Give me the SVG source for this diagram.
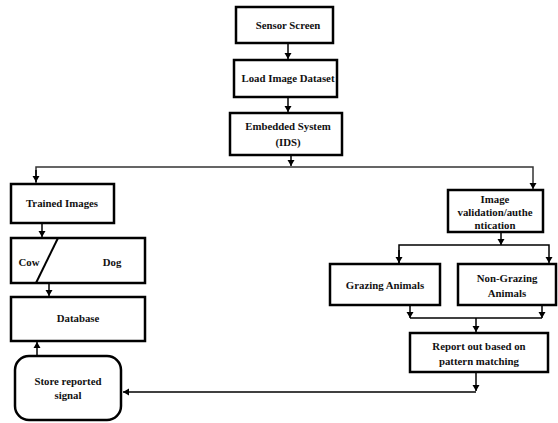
<svg xmlns="http://www.w3.org/2000/svg" width="558" height="423" viewBox="0 0 558 423">
<style>
.box{fill:#fff;stroke:#000;stroke-width:2.5}
.t{font-family:"Liberation Serif","Times New Roman",serif;font-weight:bold;font-size:10.8px;fill:#111;text-anchor:middle}
.c{fill:none;stroke:#000;stroke-width:1.5}
.g{fill:none;stroke:#333;stroke-width:1.5}
</style>
<defs>
<marker id="ah" markerWidth="8" markerHeight="8" refX="6" refY="4" orient="auto" markerUnits="userSpaceOnUse">
<path d="M0,0.5 L6,4 L0,7.5 Z" fill="#000"/>
</marker>
</defs>
<rect width="558" height="423" fill="#fff"/>
<g id="connectors">
<line class="c" x1="288" y1="43" x2="288" y2="59" marker-end="url(#ah)"/>
<line class="c" x1="288" y1="97" x2="288" y2="112" marker-end="url(#ah)"/>
<line class="c" x1="291" y1="155" x2="291" y2="166" marker-end="url(#ah)"/>
<polyline class="g" points="36,184 36,167 533,167 533,189" marker-end="url(#ah)"/>
<line class="c" x1="36" y1="170" x2="36" y2="182" marker-end="url(#ah)"/>
<line class="c" x1="42" y1="223" x2="42" y2="237" marker-end="url(#ah)"/>
<line class="c" x1="49" y1="283" x2="49" y2="296" marker-end="url(#ah)"/>
<line class="c" x1="37" y1="356" x2="37" y2="342" marker-end="url(#ah)"/>
<line class="c" x1="501" y1="232" x2="501" y2="245" marker-end="url(#ah)"/>
<polyline class="c" points="399,264 399,245 549,245 549,263" marker-end="url(#ah)"/>
<line class="c" x1="399" y1="250" x2="399" y2="263" marker-end="url(#ah)"/>
<line class="c" x1="410" y1="305" x2="410" y2="318" marker-end="url(#ah)"/>
<line class="c" x1="542" y1="305" x2="542" y2="318" marker-end="url(#ah)"/>
<line class="c" x1="410" y1="318" x2="542" y2="318"/>
<line class="c" x1="476" y1="318" x2="476" y2="332" marker-end="url(#ah)"/>
<line class="c" x1="476" y1="372" x2="476" y2="391" marker-end="url(#ah)"/>
<line class="c" x1="476" y1="392" x2="123" y2="392" marker-end="url(#ah)"/>
</g>
<g id="sensor"><rect class="box" x="236" y="7" width="97" height="36"/><text class="t" x="288" y="29">Sensor Screen</text></g>
<g id="load"><rect class="box" x="234" y="60" width="103" height="37"/><text class="t" x="288" y="82">Load Image Dataset</text></g>
<g id="ids"><rect class="box" x="230" y="113" width="112" height="42"/><text class="t" x="288" y="130">Embedded System</text><text class="t" x="288" y="146">(IDS)</text></g>
<g id="trained"><rect class="box" x="11" y="184" width="103" height="39"/><text class="t" x="62" y="207">Trained Images</text></g>
<g id="cowdog"><rect class="box" x="11" y="238" width="134" height="45"/><line x1="58" y1="238" x2="36" y2="283" stroke="#000" stroke-width="2"/><text class="t" x="29" y="266">Cow</text><text class="t" x="112" y="266">Dog</text></g>
<g id="database"><rect class="box" x="11" y="297" width="134" height="44"/><text class="t" x="78" y="322">Database</text></g>
<g id="store"><rect class="box" x="15" y="356" width="106" height="64" rx="14"/><text class="t" x="68" y="385">Store reported</text><text class="t" x="68" y="399">signal</text></g>
<g id="validation"><rect class="box" x="448" y="190" width="95" height="42"/><text class="t" x="495" y="203">Image</text><text class="t" x="495" y="216">validation/authe</text><text class="t" x="495" y="229">ntication</text></g>
<g id="grazing"><rect class="box" x="330" y="264" width="110" height="41"/><text class="t" x="385" y="289">Grazing Animals</text></g>
<g id="nongrazing"><rect class="box" x="458" y="264" width="98" height="41"/><text class="t" x="507" y="282">Non-Grazing</text><text class="t" x="507" y="297">Animals</text></g>
<g id="report"><rect class="box" x="410" y="333" width="138" height="39"/><text class="t" x="479" y="350">Report out based on</text><text class="t" x="479" y="365">pattern matching</text></g>
</svg>
